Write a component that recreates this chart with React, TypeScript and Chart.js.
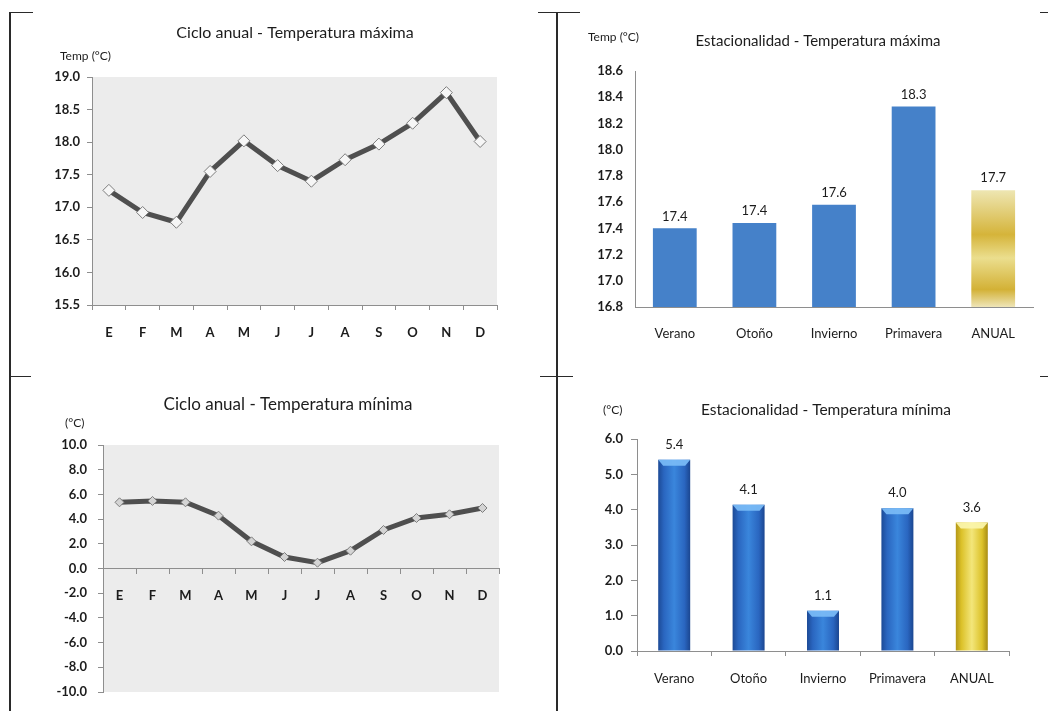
import React, { useEffect, useRef } from "react";
import { Chart, registerables } from "chart.js";

Chart.register(...registerables);

// ---------------- data ----------------
const months = ["E", "F", "M", "A", "M", "J", "J", "A", "S", "O", "N", "D"];
const tmaxMonthly = [17.26, 16.92, 16.77, 17.55, 18.02, 17.64, 17.4, 17.73, 17.97, 18.29, 18.76, 18.01];
const tminMonthly = [5.36, 5.47, 5.36, 4.28, 2.2, 0.93, 0.47, 1.44, 3.12, 4.09, 4.39, 4.9];
const seasons = ["Verano", "Otoño", "Invierno", "Primavera", "ANUAL"];
const tmaxSeasonal = [17.4, 17.44, 17.58, 18.33, 17.69];
const tminSeasonal = [5.41, 4.14, 1.14, 4.04, 3.64];
const tmaxLineTicks = { min: 15.5, max: 19.0, step: 0.5 };
const tmaxBarTicks = { min: 16.8, max: 18.6, step: 0.2 };
const tminLineTicks = { min: -10, max: 10, step: 2 };
const tminBarTicks = { min: 0, max: 6, step: 1 };
const titles = [
  "Ciclo anual - Temperatura máxima",
  "Estacionalidad - Temperatura máxima",
  "Ciclo anual - Temperatura mínima",
  "Estacionalidad - Temperatura mínima",
];
const unitLabels = ["Temp (°C)", "Temp (°C)", "(°C)", "(°C)"];

// ---------------- style ----------------
const FONT = "Lato, 'Open Sans', sans-serif";
const TEXT = "#1c1c1c";
const AXIS = "#8e8e8e";

const plotBg = {
  id: "plotBg",
  beforeDraw(chart: any, _a: any, o: any) {
    if (!o || !o.color) return;
    const { ctx, chartArea: a } = chart;
    ctx.save();
    ctx.fillStyle = o.color;
    ctx.fillRect(a.left, a.top, a.right - a.left, a.bottom - a.top);
    ctx.restore();
  },
};

const panelText = {
  id: "panelText",
  afterDraw(chart: any, _a: any, o: any) {
    const { ctx } = chart;
    ctx.save();
    ctx.fillStyle = TEXT;
    ctx.textBaseline = "middle";
    ctx.font = `${o.titleSize}px ${FONT}`;
    ctx.textAlign = "center";
    ctx.fillText(o.title, o.tx, o.ty);
    ctx.font = `${o.unitSize}px ${FONT}`;
    ctx.textAlign = "left";
    ctx.fillText(o.unit, o.ux, o.uy);
    ctx.restore();
  },
};

const valueLabels = {
  id: "valueLabels",
  afterDatasetsDraw(chart: any, _a: any, o: any) {
    if (!o || !o.show) return;
    const { ctx } = chart;
    const meta = chart.getDatasetMeta(0);
    const data = chart.data.datasets[0].data;
    ctx.save();
    ctx.fillStyle = TEXT;
    ctx.font = `${o.size}px ${FONT}`;
    ctx.textAlign = "center";
    ctx.textBaseline = "middle";
    meta.data.forEach((el: any, i: number) => {
      ctx.fillText(Number(data[i]).toFixed(1), el.x, el.y - o.offset);
    });
    ctx.restore();
  },
};

const bevel = {
  id: "bevel",
  afterDatasetsDraw(chart: any, _a: any, o: any) {
    if (!o || !o.show) return;
    const { ctx } = chart;
    const meta = chart.getDatasetMeta(0);
    ctx.save();
    meta.data.forEach((el: any, i: number) => {
      const { x, y, width } = el.getProps(["x", "y", "width"], true);
      const l = x - width / 2;
      const r = x + width / 2;
      const h = 6;
      const gold = i === seasons.length - 1;
      ctx.fillStyle = gold ? "rgba(250,244,170,0.95)" : "rgba(120,185,245,0.95)";
      ctx.beginPath();
      ctx.moveTo(l, y);
      ctx.lineTo(r, y);
      ctx.lineTo(r - 5, y + h);
      ctx.lineTo(l + 5, y + h);
      ctx.closePath();
      ctx.fill();
    });
    ctx.restore();
  },
};

function barGeom(chart: any, i: number, value: number, pct: number) {
  const xs = chart.scales.x;
  const ys = chart.scales.y;
  const n = chart.data.labels.length;
  const w = ((xs.right - xs.left) / n) * pct;
  const cx = xs.getPixelForValue(i);
  return { l: cx - w / 2, r: cx + w / 2, top: ys.getPixelForValue(value), bottom: ys.bottom };
}

type Pad = { left: number; top: number; right: number; bottom: number };

function tickFont(size: number, bold: boolean) {
  return { family: FONT, size, weight: bold ? ("bold" as const) : ("normal" as const) };
}

// ------------- chart configs -------------
function lineConfig(
  values: number[],
  range: { min: number; max: number; step: number },
  pad: Pad,
  yWidth: number,
  xHeight: number,
  opts: any
): any {
  return {
    type: "line",
    data: {
      labels: months,
      datasets: [
        {
          data: values,
          borderColor: "#4f4f4f",
          borderWidth: 5,
          tension: 0,
          pointStyle: "rectRot",
          pointRadius: opts.pointRadius,
          pointBackgroundColor: opts.pointFill,
          pointBorderColor: "#7d7d7d",
          pointBorderWidth: 1,
        },
      ],
    },
    options: {
      responsive: false,
      animation: false,
      layout: { padding: pad },
      scales: {
        x: {
          type: "category",
          offset: true,
          position: opts.xAtZero ? { y: 0 } : "bottom",
          afterFit: (s: any) => {
            s.height = xHeight;
          },
          grid: { offset: true, drawOnChartArea: false, drawTicks: true, tickLength: 5, color: AXIS },
          border: { color: AXIS, width: 1 },
          ticks: { font: tickFont(13, true), color: TEXT, padding: opts.xPad, maxRotation: 0, autoSkip: false },
        },
        y: {
          min: range.min,
          max: range.max,
          afterFit: (s: any) => {
            s.width = yWidth;
          },
          grid: { drawOnChartArea: false, drawTicks: true, tickLength: 5, color: AXIS },
          border: { color: AXIS, width: 1 },
          ticks: {
            stepSize: range.step,
            font: tickFont(13, true),
            color: TEXT,
            padding: opts.yPad,
            callback: (v: any) => Number(v).toFixed(1),
          },
        },
      },
      plugins: {
        legend: { display: false },
        tooltip: { enabled: false },
        plotBg: { color: "#ececec" },
        panelText: opts.text,
      },
    },
    plugins: [plotBg, panelText],
  };
}

function barConfig(
  values: number[],
  range: { min: number; max: number; step: number },
  pad: Pad,
  yWidth: number,
  xHeight: number,
  opts: any
): any {
  const pct = opts.pct;
  const n = seasons.length;
  const bg = (c: any) => {
    const chart = c.chart;
    const i = c.dataIndex;
    const gold = i === n - 1;
    if (!chart.chartArea || !chart.scales.x || i === undefined) return gold ? "#e2cc60" : "#4581c9";
    const g = barGeom(chart, i, values[i], pct);
    const ctx = chart.ctx;
    if (opts.style === "flat") {
      if (!gold) return "#4581c9";
      const gr = ctx.createLinearGradient(0, g.top, 0, g.bottom);
      gr.addColorStop(0, "#eee6b2");
      gr.addColorStop(0.38, "#d5b43a");
      gr.addColorStop(0.58, "#ebde8e");
      gr.addColorStop(0.85, "#d3b136");
      gr.addColorStop(1, "#eee5b8");
      return gr;
    }
    const gr = ctx.createLinearGradient(g.l, 0, g.r, 0);
    if (gold) {
      gr.addColorStop(0, "#b49718");
      gr.addColorStop(0.18, "#dcc22a");
      gr.addColorStop(0.5, "#f3e67a");
      gr.addColorStop(0.82, "#dcc22a");
      gr.addColorStop(1, "#a88c14");
    } else {
      gr.addColorStop(0, "#1c4a96");
      gr.addColorStop(0.18, "#2a66c0");
      gr.addColorStop(0.5, "#3a86dc");
      gr.addColorStop(0.82, "#2a66c0");
      gr.addColorStop(1, "#1b4690");
    }
    return gr;
  };
  return {
    type: "bar",
    data: {
      labels: seasons,
      datasets: [
        {
          data: values,
          backgroundColor: bg,
          borderWidth: 0,
          categoryPercentage: pct,
          barPercentage: 1,
        },
      ],
    },
    options: {
      responsive: false,
      animation: false,
      layout: { padding: pad },
      scales: {
        x: {
          afterFit: (s: any) => {
            s.height = xHeight;
          },
          grid: {
            display: opts.xTicks,
            offset: true,
            drawOnChartArea: false,
            drawTicks: opts.xTicks,
            tickLength: 5,
            color: AXIS,
          },
          border: { color: AXIS, width: 1 },
          ticks: { font: tickFont(13, false), color: TEXT, padding: opts.xPad, maxRotation: 0, autoSkip: false },
        },
        y: {
          min: range.min,
          max: range.max,
          afterFit: (s: any) => {
            s.width = yWidth;
          },
          grid: {
            display: opts.yTicks,
            drawOnChartArea: false,
            drawTicks: opts.yTicks,
            tickLength: 6,
            color: AXIS,
          },
          border: { color: AXIS, width: 1 },
          ticks: {
            stepSize: range.step,
            font: tickFont(13, true),
            color: TEXT,
            padding: opts.yPad,
            callback: (v: any) => Number(v).toFixed(1),
          },
        },
      },
      plugins: {
        legend: { display: false },
        tooltip: { enabled: false },
        panelText: opts.text,
        valueLabels: { show: true, size: 13, offset: opts.labelOffset },
        bevel: { show: opts.style !== "flat" },
      },
    },
    plugins: [panelText, valueLabels, bevel],
  };
}

function ChartBox(props: { left: number; top: number; width: number; height: number; make: () => any }) {
  const ref = useRef<HTMLCanvasElement | null>(null);
  useEffect(() => {
    if (!ref.current) return;
    const chart = new Chart(ref.current, props.make());
    return () => chart.destroy();
  }, []);
  return (
    <canvas
      ref={ref}
      width={props.width}
      height={props.height}
      style={{ position: "absolute", left: props.left, top: props.top, width: props.width, height: props.height }}
    />
  );
}

const lineSegs = [
  { left: 9, top: 12, width: 2, height: 699 },
  { left: 9, top: 12, width: 24, height: 1 },
  { left: 556, top: 12, width: 2, height: 699 },
  { left: 538, top: 12, width: 42, height: 1 },
  { left: 1040, top: 12, width: 8, height: 1 },
  { left: 9, top: 376, width: 22, height: 1 },
  { left: 540, top: 376, width: 33, height: 1 },
  { left: 1040, top: 376, width: 8, height: 1 },
];

export default function App() {
  return (
    <div
      style={{
        position: "absolute",
        left: 0,
        top: 0,
        width: 1048,
        height: 711,
        background: "#ffffff",
        overflow: "hidden",
      }}
    >
      {lineSegs.map((s, i) => (
        <div key={i} style={{ position: "absolute", background: "#2a2a2a", ...s }} />
      ))}
      <ChartBox
        left={12}
        top={14}
        width={536}
        height={350}
        make={() =>
          lineConfig(tmaxMonthly, tmaxLineTicks, { left: 10, top: 63, right: 51, bottom: 14 }, 70, 45, {
            pointRadius: 6,
            pointFill: "#f6f6f6",
            xAtZero: false,
            xPad: 15,
            yPad: 7,
            text: { title: titles[0], titleSize: 16, tx: 283, ty: 19, unit: unitLabels[0], unitSize: 12, ux: 48, uy: 42 },
          })
        }
      />
      <ChartBox
        left={560}
        top={14}
        width={488}
        height={350}
        make={() =>
          barConfig(tmaxSeasonal, tmaxBarTicks, { left: 5, top: 57, right: 15, bottom: 12 }, 70, 45, {
            pct: 0.55,
            style: "flat",
            xTicks: false,
            yTicks: false,
            xPad: 19,
            yPad: 12,
            labelOffset: 12,
            text: { title: titles[1], titleSize: 15, tx: 258, ty: 27, unit: unitLabels[1], unitSize: 12, ux: 28, uy: 23 },
          })
        }
      />
      <ChartBox
        left={12}
        top={380}
        width={536}
        height={331}
        make={() =>
          lineConfig(tminMonthly, tminLineTicks, { left: 10, top: 65, right: 49, bottom: 19 }, 81, 45, {
            pointRadius: 4.5,
            pointFill: "#d4d4d4",
            xAtZero: true,
            xPad: 15,
            yPad: 11,
            text: { title: titles[2], titleSize: 17, tx: 276, ty: 25, unit: unitLabels[2], unitSize: 12, ux: 53, uy: 43 },
          })
        }
      />
      <ChartBox
        left={560}
        top={380}
        width={488}
        height={331}
        make={() =>
          barConfig(tminSeasonal, tminBarTicks, { left: 5, top: 59, right: 39, bottom: 15 }, 72, 45, {
            pct: 0.43,
            style: "bevel",
            xTicks: true,
            yTicks: true,
            xPad: 15,
            yPad: 8,
            labelOffset: 15,
            text: { title: titles[3], titleSize: 15.5, tx: 266, ty: 30, unit: unitLabels[3], unitSize: 12, ux: 43, uy: 30 },
          })
        }
      />
    </div>
  );
}
